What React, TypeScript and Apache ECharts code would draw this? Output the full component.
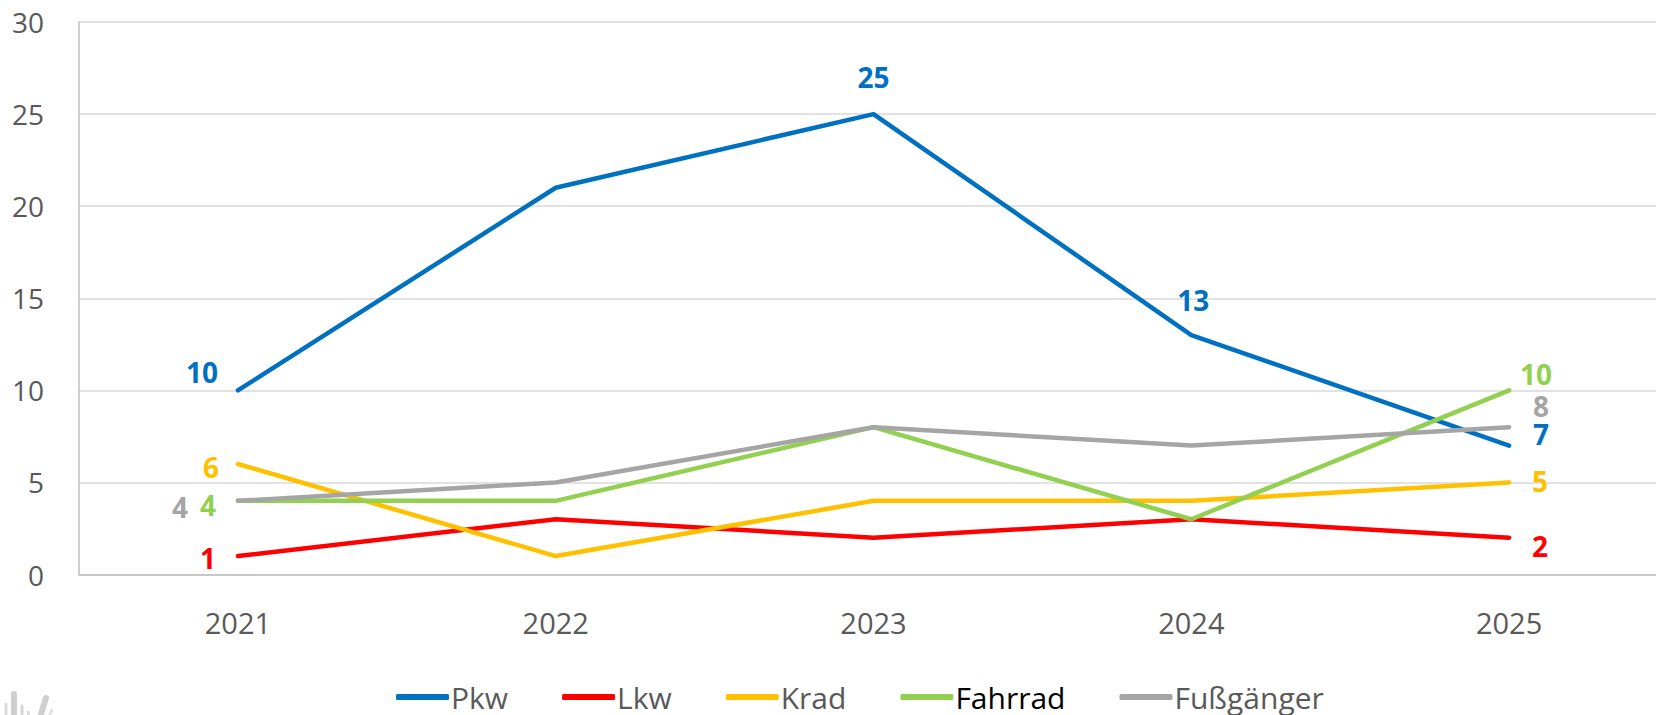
import React, { useEffect, useRef } from "react";
import * as echarts from "echarts";

const years = ["2021", "2022", "2023", "2024", "2025"];
const pkw = [10, 21, 25, 13, 7];
const lkw = [1, 3, 2, 3, 2];
const krad = [6, 1, 4, 4, 5];
const fahrrad = [4, 4, 8, 3, 10];
const fussgaenger = [4, 5, 8, 7, 8];
const yTicks = { min: 0, max: 30, interval: 5 };

const seriesDefs = [
  { name: "Pkw", values: pkw, color: "#0070C0", legendColor: "#595959", offsets: { 0: [-36, -18], 2: [0, -37], 3: [2, -35], 4: [32, -12] } },
  { name: "Lkw", values: lkw, color: "#FF0000", legendColor: "#595959", offsets: { 0: [-30, 2], 4: [31, 8] } },
  { name: "Krad", values: krad, color: "#FFC000", legendColor: "#595959", offsets: { 0: [-27, 3], 4: [31, -1] } },
  { name: "Fahrrad", values: fahrrad, color: "#92D050", legendColor: "#000000", offsets: { 0: [-30, 4], 4: [27, -16] } },
  { name: "Fußgänger", values: fussgaenger, color: "#A5A5A5", legendColor: "#595959", offsets: { 0: [-58, 6], 4: [32, -21] } },
];

const FONT = "'Open Sans', 'Noto Sans', sans-serif";

export default function App() {
  const ref = useRef<HTMLDivElement>(null);
  useEffect(() => {
    if (!ref.current) return;
    const chart = echarts.init(ref.current, undefined, { renderer: "svg" });
    const series = seriesDefs.map((s) => ({
      name: s.name,
      type: "line",
      symbol: "circle",
      symbolSize: 2,
      showSymbol: true,
      lineStyle: { color: s.color, width: 4.5, cap: "round", join: "round" },
      itemStyle: { color: s.color },
      label: {
        show: false,
        color: s.color,
        fontSize: 28,
        fontWeight: "bold",
        fontFamily: FONT,
      },
      emphasis: { disabled: true },
      data: s.values.map((v, i) => {
        const off = (s.offsets as any)[i];
        return off
          ? { value: v, label: { show: true, position: "inside", offset: off } }
          : v;
      }),
    }));
    chart.setOption({
      animation: false,
      backgroundColor: "#ffffff",
      grid: { left: 79, top: 22, width: 1589, height: 552.5, containLabel: false },
      xAxis: {
        type: "category",
        data: years,
        boundaryGap: true,
        axisLine: { show: true, lineStyle: { color: "#BFBFBF", width: 1.5 } },
        axisTick: { show: false },
        axisLabel: { color: "#595959", fontSize: 29, fontFamily: FONT, margin: 33 },
        splitLine: { show: false },
      },
      yAxis: {
        type: "value",
        min: yTicks.min,
        max: yTicks.max,
        interval: yTicks.interval,
        axisLine: { show: true, lineStyle: { color: "#BFBFBF", width: 1.5 } },
        axisTick: { show: false },
        axisLabel: { color: "#595959", fontSize: 28, fontFamily: FONT, margin: 35 },
        splitLine: { show: true, lineStyle: { color: "#D9D9D9", width: 1.5 } },
      },
      legend: {
        left: 391,
        top: 677,
        icon: "roundRect",
        itemWidth: 53,
        itemHeight: 6,
        itemGap: 54,
        textStyle: { fontSize: 30, lineHeight: 30, fontFamily: FONT, color: "#595959", padding: [0, 0, 0, -3] },
        data: seriesDefs.map((s) => ({
          name: s.name,
          itemStyle: { color: s.color },
          textStyle: { color: s.legendColor },
        })),
      },
      graphic: [
        { type: "line", shape: { x1: 14, y1: 694, x2: 14, y2: 730 }, style: { stroke: "#CFCFCF", lineWidth: 6, lineCap: "round" } },
        { type: "line", shape: { x1: 6, y1: 704, x2: 6, y2: 730 }, style: { stroke: "#DCDCDC", lineWidth: 3, lineCap: "round" } },
        { type: "line", shape: { x1: 22, y1: 706, x2: 22, y2: 730 }, style: { stroke: "#D6D6D6", lineWidth: 3, lineCap: "round" } },
        { type: "line", shape: { x1: 28, y1: 712, x2: 32, y2: 730 }, style: { stroke: "#DCDCDC", lineWidth: 3, lineCap: "round" } },
        { type: "line", shape: { x1: 36, y1: 730, x2: 46, y2: 698 }, style: { stroke: "#CFCFCF", lineWidth: 6, lineCap: "round" } },
        { type: "line", shape: { x1: 42, y1: 730, x2: 52, y2: 710 }, style: { stroke: "#E2E2E2", lineWidth: 3, lineCap: "round" } },
      ],
      series,
    });
    return () => chart.dispose();
  }, []);
  return (
    <div style={{ position: "fixed", left: 0, top: 0, width: 1656, height: 715, overflow: "hidden", background: "#fff" }}>
      <div ref={ref} style={{ width: 1672, height: 715 }} />
    </div>
  );
}
